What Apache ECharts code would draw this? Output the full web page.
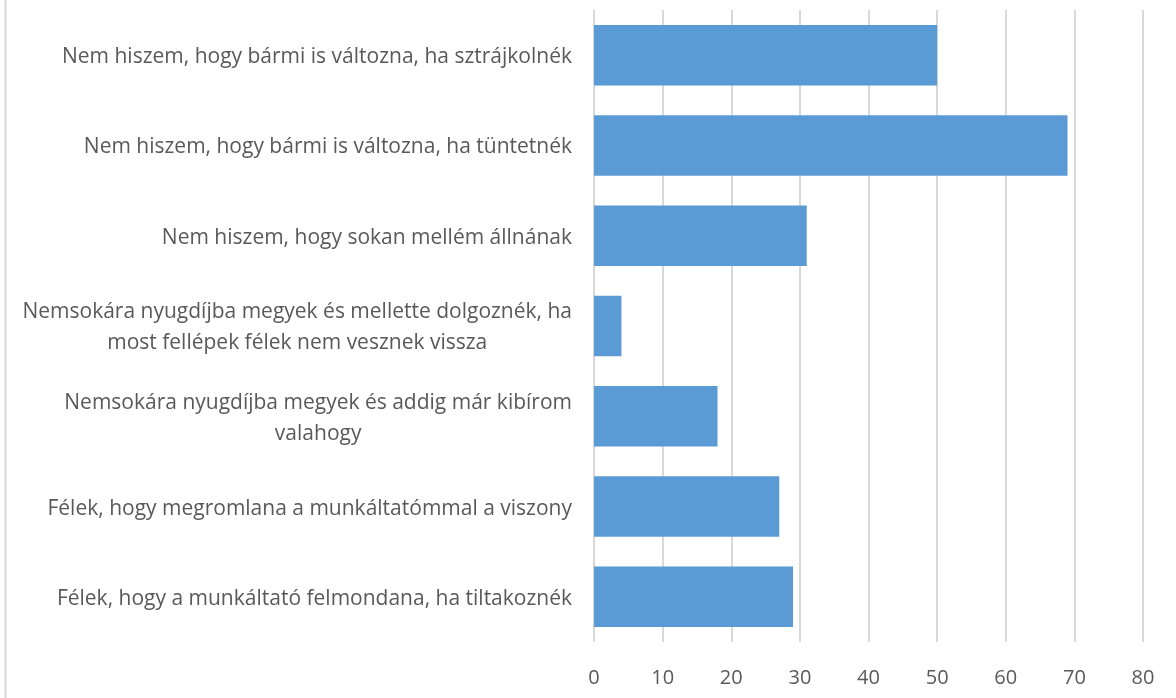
<!DOCTYPE html>
<html>
<head>
<meta charset="utf-8">
<script src="https://cdn.jsdelivr.net/npm/echarts@6/dist/echarts.min.js"></script>
<style>
  html, body { margin: 0; padding: 0; background: #fff; }
  #chart { width: 1176px; height: 698px; }
</style>
</head>
<body>
<div id="chart"></div>
<script>
// Survey reasons, listed top to bottom
const categories = [
  'Nem hiszem, hogy bármi is változna, ha sztrájkolnék',
  'Nem hiszem, hogy bármi is változna, ha tüntetnék',
  'Nem hiszem, hogy sokan mellém állnának',
  'Nemsokára nyugdíjba megyek és mellette dolgoznék, ha\nmost fellépek félek nem vesznek vissza',
  'Nemsokára nyugdíjba megyek és addig már kibírom\nvalahogy',
  'Félek, hogy megromlana a munkáltatómmal a viszony',
  'Félek, hogy a munkáltató felmondana, ha tiltakoznék'
];
const values = [50, 69, 31, 4, 18, 27, 29];
const xTicks = { min: 0, max: 80, interval: 10 };

const chart = echarts.init(document.getElementById('chart'));
chart.setOption({
  animation: false,
  textStyle: { fontFamily: 'Open Sans' },
  graphic: [{
    type: 'line',
    shape: { x1: 5.5, y1: 0, x2: 5.5, y2: 698 },
    style: { stroke: '#d9d9d9', lineWidth: 2 }
  }],
  grid: { left: 594, right: 33, top: 10, bottom: 56, containLabel: false },
  xAxis: {
    type: 'value',
    min: xTicks.min, max: xTicks.max, interval: xTicks.interval,
    axisLine: { show: false },
    axisTick: { show: false },
    splitLine: { show: true, lineStyle: { color: '#d9d9d9', width: 2 } },
    axisLabel: { color: '#595959', fontSize: 20, margin: 26 }
  },
  yAxis: {
    type: 'category',
    inverse: true,
    data: categories,
    axisLine: { show: false },
    axisTick: { show: false },
    axisLabel: {
      margin: 22,
      color: '#595959',
      fontSize: 21,
      lineHeight: 31,
      formatter: function (v) {
        return v.split('\n').map(function (s) { return '{c|' + s + '}'; }).join('\n');
      },
      rich: {
        c: { align: 'center', color: '#595959', fontSize: 21, lineHeight: 31, fontFamily: 'Open Sans', padding: [4, 0, 0, 0] }
      }
    }
  },
  series: [{
    type: 'bar',
    data: values,
    barCategoryGap: '33%',
    itemStyle: { color: '#5b9bd5' }
  }]
});
</script>
</body>
</html>
